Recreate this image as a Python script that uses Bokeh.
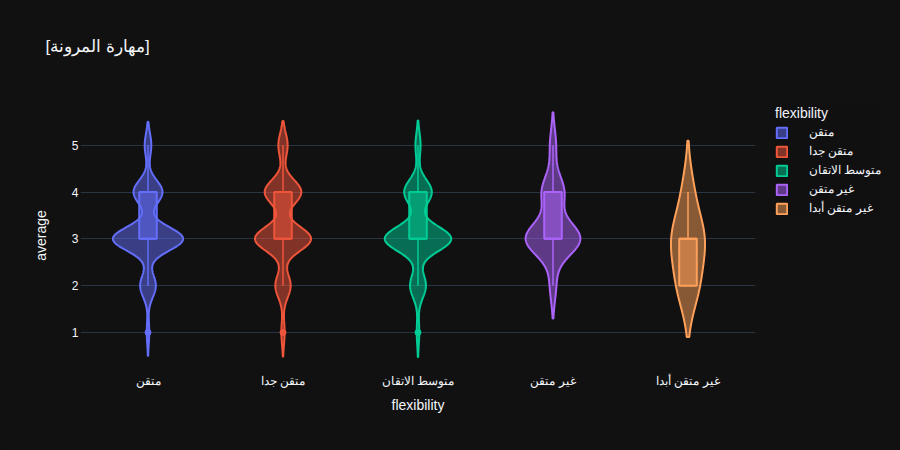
import numpy as np
from bokeh.plotting import figure
from bokeh.models import Legend, LegendItem, FixedTicker, Range1d, Title
from bokeh.embed import file_html
from bokeh.resources import INLINE

# ---------------- data ----------------
categories = ["متقن", "متقن جدا", "متوسط الاتقان", "غير متقن", "غير متقن أبدا"]
score_levels = [1, 2, 3, 4, 5]
# number of responses at each score level (1..5) per flexibility group
counts_mutqin = [6, 38, 170, 70, 16]
counts_mutqin_jiddan = [7, 33, 121, 79, 20]
counts_mutawassit = [5, 31, 130, 54, 10]
counts_ghayr_mutqin = [0, 3, 27, 11, 3]
counts_ghayr_mutqin_abadan = [0, 2, 3, 1, 0]
all_counts = [counts_mutqin, counts_mutqin_jiddan, counts_mutawassit,
              counts_ghayr_mutqin, counts_ghayr_mutqin_abadan]
colors = ["#636efa", "#EF553B", "#00cc96", "#ab63fa", "#FFA15A"]
title_text = "[مهارة المرونة]"

FONT = "Liberation Sans"
TXT = "#f2f5fa"
BG = "#111111"
GRID = "#283442"

VIOLIN_HALF = 0.26
BOX_HALF = 0.065


def quantile(sorted_vals, q):
    # plotly-style interpolation (position = q*n - 0.5)
    n = len(sorted_vals)
    pos = q * n - 0.5
    if pos < 0:
        return sorted_vals[0]
    if pos > n - 1:
        return sorted_vals[-1]
    lo = int(np.floor(pos))
    hi = int(np.ceil(pos))
    f = pos - lo
    return f * sorted_vals[hi] + (1 - f) * sorted_vals[lo]


def stats(counts):
    vals = np.sort(np.repeat(np.array(score_levels, dtype=float), counts))
    n = len(vals)
    q1, med, q3 = quantile(vals, 0.25), quantile(vals, 0.5), quantile(vals, 0.75)
    ssd = np.std(vals, ddof=1)
    bw = 1.059 * min(ssd, (q3 - q1) / 1.349) * n ** -0.2
    lo, hi = vals.min() - 2 * bw, vals.max() + 2 * bw
    ys = np.linspace(lo, hi, 300)
    lv = np.array(score_levels, dtype=float)
    c = np.array(counts, dtype=float)
    dens = (c[None, :] * np.exp(-0.5 * ((ys[:, None] - lv[None, :]) / bw) ** 2)).sum(1)
    dens /= n * bw * np.sqrt(2 * np.pi)
    iqr = q3 - q1
    upper = vals[vals <= q3 + 1.5 * iqr].max()
    lower = vals[vals >= q1 - 1.5 * iqr].min()
    outl = np.unique(vals[(vals > q3 + 1.5 * iqr) | (vals < q1 - 1.5 * iqr)])
    return dict(ys=ys, dens=dens, q1=q1, q3=q3, med=med, upper=upper,
                lower=lower, outliers=outl)


st = [stats(c) for c in all_counts]
dmax = max(s["dens"].max() for s in st)

p = figure(frame_width=675, frame_height=270, output_backend="svg", toolbar_location=None,
           x_range=Range1d(0, len(categories)), y_range=Range1d(0.188, 5.955),
           background_fill_color=BG, border_fill_color=BG, outline_line_color=None,
           min_border_left=80, min_border_right=145, min_border_top=100,
           min_border_bottom=80)
p.outline_line_alpha = 0
p.styles = {"background-color": BG}

items = []
for i, (cat, s, col) in enumerate(zip(categories, st, colors)):
    x0 = i + 0.5
    w = s["dens"] / dmax * VIOLIN_HALF
    xs = np.concatenate([x0 + w, (x0 - w)[::-1]])
    ys = np.concatenate([s["ys"], s["ys"][::-1]])
    r = p.patch(xs, ys, fill_color=col, fill_alpha=0.5, line_color=col, line_width=2)
    items.append(LegendItem(label=cat, renderers=[r]))
    # box
    p.quad(left=[x0 - BOX_HALF], right=[x0 + BOX_HALF], bottom=[s["q1"]], top=[s["q3"]],
           fill_color=col, fill_alpha=0.5, line_color=col, line_width=2)
    p.segment(x0=[x0 - BOX_HALF], x1=[x0 + BOX_HALF], y0=[s["med"]], y1=[s["med"]],
              line_color=col, line_width=2)
    p.segment(x0=[x0, x0], x1=[x0, x0], y0=[s["q3"], s["q1"]], y1=[s["upper"], s["lower"]],
              line_color=col, line_width=1.5)
    if len(s["outliers"]):
        p.scatter(x=[x0] * len(s["outliers"]), y=list(s["outliers"]), size=6,
                  fill_color=col, line_color=col)

# axes
p.xaxis.ticker = FixedTicker(ticks=[i + 0.5 for i in range(len(categories))])
p.xaxis.major_label_overrides = {i + 0.5: c for i, c in enumerate(categories)}
p.yaxis.ticker = FixedTicker(ticks=[1, 2, 3, 4, 5])
for ax in (p.xaxis[0], p.yaxis[0]):
    ax.axis_line_color = None
    ax.major_tick_line_color = None
    ax.minor_tick_line_color = None
    ax.major_tick_out = 0
    ax.major_tick_in = 0
    ax.minor_tick_out = 0
    ax.minor_tick_in = 0
    ax.major_label_text_color = TXT
    ax.major_label_text_font = FONT
    ax.major_label_text_font_size = "12px"
    ax.axis_label_text_color = TXT
    ax.axis_label_text_font = FONT
    ax.axis_label_text_font_size = "14px"
    ax.axis_label_text_font_style = "normal"
p.xaxis.axis_label = "flexibility"
p.yaxis.axis_label = "average"
p.xaxis.major_label_standoff = 3
p.xaxis.axis_label_standoff = 6
p.yaxis.major_label_standoff = 2
p.yaxis.axis_label_standoff = 20
p.xgrid.grid_line_color = None
p.ygrid.grid_line_color = GRID
p.ygrid.grid_line_width = 1

# title (a blank spacer title sits between the real title and the frame)
p.title.text = title_text
p.title.text_font = FONT
p.title.text_font_size = "17px"
p.title.text_font_style = "normal"
p.title.text_color = TXT
p.title.align = "left"
p.title.offset = -35
p.title.standoff = 0
spacer = Title(text=" ", text_font_size="17px", standoff=24, text_color=BG)
p.add_layout(spacer, "above")

legend = Legend(items=items, title="flexibility", location=(20, 155))
legend.background_fill_color = BG
legend.border_line_color = None
legend.label_text_color = TXT
legend.label_text_font = FONT
legend.label_text_font_size = "12px"
legend.title_text_color = TXT
legend.title_text_font = FONT
legend.title_text_font_size = "14px"
legend.title_text_font_style = "normal"
legend.title_standoff = 4
legend.glyph_width = 13
legend.glyph_height = 13
legend.label_height = 14
legend.spacing = 5
legend.padding = 0
legend.margin = 0
legend.label_standoff = 21
p.add_layout(legend, "right")

open("out.html", "w").write(file_html(p, INLINE))
